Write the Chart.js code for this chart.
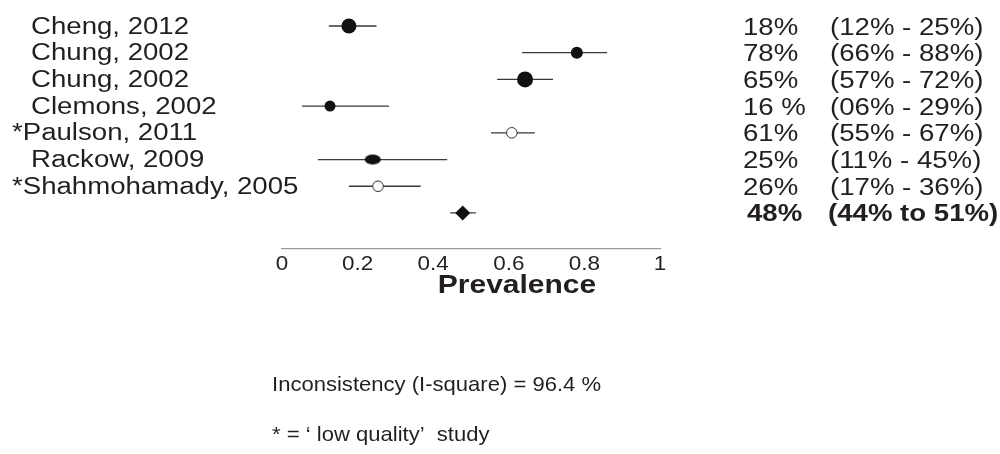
<!DOCTYPE html>
<html><head><meta charset="utf-8">
<script src="https://cdn.jsdelivr.net/npm/chart.js@4/dist/chart.umd.min.js"></script>
<style>html,body{margin:0;padding:0;background:#fff}#wrap{width:1000px;height:454px;position:relative}</style>
</head><body><div id="wrap"><canvas id="c"></canvas></div>
<script>
// ---- data ----
const studies = ['Cheng, 2012','Chung, 2002','Chung, 2002','Clemons, 2002','Paulson, 2011','Rackow, 2009','Shahmohamady, 2005'];
const lowQuality = [false,false,false,false,true,false,true];
const estimate = [0.177,0.78,0.643,0.127,0.608,0.24,0.254];
const lower = [0.124,0.635,0.569,0.053,0.553,0.095,0.177];
const upper = [0.25,0.86,0.717,0.283,0.669,0.437,0.367];
const estimateText = ['18%','78%','65%','16 %','61%','25%','26%'];
const ciText = ['(12% - 25%)','(66% - 88%)','(57% - 72%)','(06% - 29%)','(55% - 67%)','(11% - 45%)','(17% - 36%)'];
const pooledEstimate = [0.478];
const pooledLower = [0.445];
const pooledUpper = [0.513];
const pooledText = ['48%','(44% to 51%)'];
const xTickLabels = ['0','0.2','0.4','0.6','0.8','1'];
const axisTitle = 'Prevalence';
const notes = ['Inconsistency (I-square) = 96.4 %', '* = \u2018 low quality\u2019  study'];

// ---- styling helpers ----
const FONT = '"Liberation Sans", Arial, Helvetica, sans-serif';
const INK = '#231f20';
function txt(ctx, s, x, y, size, bold, align, sx) {
  ctx.save();
  ctx.font = (bold ? 'bold ' : '') + size + 'px ' + FONT;
  ctx.fillStyle = INK;
  ctx.textBaseline = 'alphabetic';
  ctx.textAlign = align || 'left';
  ctx.translate(x, y);
  ctx.scale(sx || 1.2, 1);
  ctx.fillText(s, 0, 0);
  ctx.restore();
}
function ellipseCanvas(w, h, color) {
  const c = document.createElement('canvas');
  c.width = w + 2; c.height = h + 2;
  const g = c.getContext('2d');
  g.fillStyle = color;
  g.beginPath();
  g.ellipse(c.width / 2, c.height / 2, w / 2, h / 2, 0, 0, Math.PI * 2);
  g.fill();
  return c;
}

const rows = studies.map((s, i) => i);
const pooledRow = studies.length;

const filledIdx = rows.filter(i => !lowQuality[i]);
const openIdx = rows.filter(i => lowQuality[i]);
const filledRadius = { 0: 7.5, 1: 6, 2: 8, 3: 5.5, 5: 7 };
const rackowEllipse = ellipseCanvas(16, 10, '#111');

const ciData = [];
rows.forEach(i => { ciData.push({x: lower[i], y: i}, {x: upper[i], y: i}, {x: null, y: null}); });
ciData.push({x: pooledLower[0], y: pooledRow}, {x: pooledUpper[0], y: pooledRow});

const textPlugin = {
  id: 'forestText',
  afterDraw(chart) {
    const ctx = chart.ctx;
    const ys = chart.scales.y, xs = chart.scales.x;
    rows.forEach(i => {
      const y = ys.getPixelForValue(i);
      const name = (lowQuality[i] ? '*' : '') + studies[i];
      txt(ctx, name, lowQuality[i] ? 12 : 31, y + 7.5, 23, false);
      txt(ctx, estimateText[i], 743, y + 8.5, 23, false);
      txt(ctx, ciText[i], 830, y + 8.5, 23, false);
    });
    const py = ys.getPixelForValue(pooledRow);
    txt(ctx, pooledText[0], 747, py + 8.5, 23, true);
    txt(ctx, pooledText[1], 828, py + 8.5, 23, true);
    xs.ticks.forEach((t, k) => {
      txt(ctx, xTickLabels[k], xs.getPixelForValue(t.value), 270, 19.5, false, 'center', 1.15);
    });
    txt(ctx, axisTitle, 517, 293, 25, true, 'center');
    txt(ctx, notes[0], 272, 391, 21, false, 'left', 1.05);
    txt(ctx, notes[1], 272, 441, 21, false, 'left', 1.05);
  }
};

new Chart(document.getElementById('c'), {
  type: 'scatter',
  data: {
    datasets: [
      {
        type: 'scatter',
        data: [{x: pooledEstimate[0], y: pooledRow}],
        pointStyle: 'rectRot',
        pointRadius: 7.5,
        backgroundColor: '#111',
        borderColor: '#111',
        borderWidth: 0
      },
      {
        type: 'scatter',
        data: filledIdx.map(i => ({x: estimate[i], y: i})),
        pointStyle: filledIdx.map(i => i === 5 ? rackowEllipse : 'circle'),
        pointRadius: filledIdx.map(i => filledRadius[i]),
        backgroundColor: '#111',
        borderColor: '#111',
        borderWidth: 0
      },
      {
        type: 'scatter',
        data: openIdx.map(i => ({x: estimate[i], y: i})),
        pointStyle: 'circle',
        pointRadius: 5.3,
        backgroundColor: '#ffffff',
        borderColor: '#333',
        borderWidth: 1
      },
      {
        type: 'line',
        data: ciData,
        showLine: true,
        spanGaps: false,
        pointRadius: 0,
        borderColor: '#3a3a3a',
        borderWidth: 1.3,
        fill: false
      }
    ]
  },
  options: {
    responsive: true,
    maintainAspectRatio: false,
    animation: false,
    events: [],
    layout: { padding: { left: 282, right: 340, top: 12.65, bottom: 0 } },
    plugins: { legend: { display: false }, tooltip: { enabled: false }, title: { display: false } },
    scales: {
      x: {
        type: 'linear', min: 0, max: 1,
        ticks: { display: false, stepSize: 0.2 },
        grid: { display: false },
        border: { display: true, color: '#9a9a9a', width: 1.2 },
        afterFit(scale) { scale.height = 454 - 249; }
      },
      y: {
        type: 'linear', reverse: true, min: -0.5, max: 8.35,
        display: false
      }
    }
  },
  plugins: [textPlugin]
});
</script>
</body></html>
